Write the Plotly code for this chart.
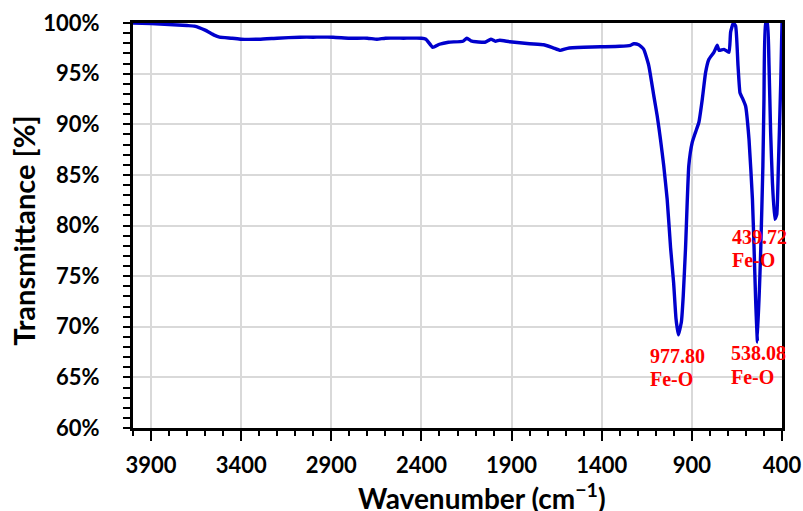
import plotly.graph_objects as go

wavenumber = [4000, 3900, 3800, 3700, 3660, 3600, 3550, 3520, 3450, 3400, 3300, 3200, 3074, 3000,
              2890, 2800, 2700, 2647, 2600, 2500, 2400, 2375, 2337, 2300, 2250, 2170, 2148, 2120,
              2048, 2015, 1990, 1966, 1910, 1800, 1722, 1670, 1630, 1590, 1500, 1407, 1300, 1240,
              1222, 1195, 1167, 1139, 1111, 1092, 1074, 1056, 1037, 1018, 1001, 988, 975, 958,
              948, 935, 917, 898, 880, 861, 842, 824, 806, 778, 759, 750, 722, 694, 685, 670,
              657, 644, 633, 620, 602, 583, 564, 555, 546, 536, 518, 506, 500, 491, 481, 472,
              463, 453, 440, 429, 420, 407, 400]
transmittance = [100.0, 99.95, 99.85, 99.75, 99.7, 99.3, 98.8, 98.6, 98.5, 98.4, 98.4, 98.5, 98.6, 98.6,
                 98.6, 98.5, 98.5, 98.4, 98.5, 98.5, 98.5, 98.4, 97.6, 97.9, 98.1, 98.2, 98.5, 98.2,
                 98.1, 98.4, 98.2, 98.3, 98.15, 97.95, 97.85, 97.55, 97.3, 97.5, 97.6, 97.65, 97.7, 97.8,
                 97.95, 97.85, 97.4, 95.8, 92.8, 90.8, 88.5, 85.9, 82.6, 77.8, 74.3, 70.8, 69.2, 70.5,
                 73.0, 77.8, 85.9, 88.2, 89.2, 90.2, 92.5, 95.1, 96.4, 97.1, 97.8, 97.3, 97.4, 97.1, 99.1, 100.0,
                 99.7, 95.8, 93.1, 92.6, 91.8, 88.5, 82.6, 77.8, 72.5, 68.5, 77.6, 85.9, 92.5, 100.0, 100.0, 95.8,
                 89.2, 84.2, 80.6, 81.1, 85.9, 94.1, 100.0]

peak_positions = [977.80, 538.08, 439.72]
peak_labels = ["977.80", "538.08", "439.72"]
peak_groups = ["Fe-O", "Fe-O", "Fe-O"]
label_x = [1146, 692, 686]
label_y_num = [67.13, 67.4, 78.9]
label_y_grp = [64.85, 65.05, 76.6]

x_ticks = [3900, 3400, 2900, 2400, 1900, 1400, 900, 400]
y_ticks = [60, 65, 70, 75, 80, 85, 90, 95, 100]

tick_font = dict(family="Lato", size=22, color="black", weight="bold")

fig = go.Figure()
fig.add_trace(go.Scatter(x=wavenumber, y=transmittance, mode="lines",
                         line=dict(color="#0000CC", width=3.4, shape="spline", smoothing=0.4),
                         showlegend=False, hoverinfo="x+y"))

for lx, ly1, ly2, t1, t2 in zip(label_x, label_y_num, label_y_grp, peak_labels, peak_groups):
    for yy, tt in ((ly1, t1), (ly2, t2)):
        fig.add_annotation(x=lx, y=yy, text=tt, showarrow=False, xanchor="left", yanchor="middle",
                           font=dict(family="Liberation Serif", size=20, color="#FF0000", weight="bold"))

fig.add_annotation(xref="paper", yref="paper", x=0.538, y=-0.168, text="Wavenumber (cm<sup>−1</sup>)",
                   showarrow=False, xanchor="center", yanchor="middle",
                   font=dict(family="Lato", size=28, color="black", weight="bold"))
fig.add_annotation(xref="paper", yref="paper", x=-0.168, y=0.487, text="Transmittance [%]", textangle=-90,
                   showarrow=False, xanchor="center", yanchor="middle",
                   font=dict(family="Lato", size=29, color="black", weight="bold"))

fig.update_layout(
    width=803, height=511,
    margin=dict(l=133, r=21, t=23, b=83),
    plot_bgcolor="white", paper_bgcolor="white",
)
fig.update_xaxes(range=[4000, 400], tickvals=x_ticks, ticktext=[str(v) for v in x_ticks],
                 automargin=False,
                 showgrid=True, gridcolor="#D9D9D9", gridwidth=1.5,
                 showline=True, linecolor="black", linewidth=3, mirror=True,
                 ticks="outside", ticklen=10, tickwidth=2, tickcolor="black",
                 tickfont=tick_font, zeroline=False, ticklabelstandoff=6,
                 minor=dict(dtick=100, tick0=400, ticks="outside", ticklen=5, tickwidth=2,
                            tickcolor="black", showgrid=False))
fig.update_yaxes(range=[60, 100], tickvals=y_ticks, ticktext=[f"{v}%" for v in y_ticks],
                 automargin=False,
                 showgrid=True, gridcolor="#D9D9D9", gridwidth=1.5,
                 showline=True, linecolor="black", linewidth=3, mirror=True,
                 ticks="outside", ticklen=7, tickwidth=2, tickcolor="black",
                 tickfont=tick_font, zeroline=False, ticklabelstandoff=19,
                 minor=dict(dtick=1, tick0=60, ticks="outside", ticklen=7, tickwidth=2,
                            tickcolor="black", showgrid=False))

fig.write_html("out.html", config={"displayModeBar": False},
               post_script="document.body.style.margin='0';document.body.style.overflow='hidden';")
